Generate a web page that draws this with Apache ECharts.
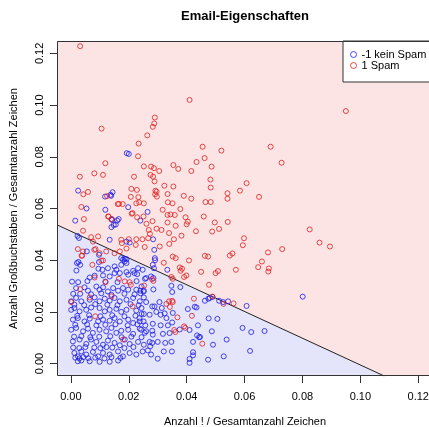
<!DOCTYPE html>
<html>
<head>
<meta charset="utf-8">
<script src="https://cdn.jsdelivr.net/npm/echarts@6/dist/echarts.min.js"></script>
<style>
  html, body { margin: 0; padding: 0; background: #ffffff; }
  #chart { width: 429px; height: 427px; }
</style>
</head>
<body>
<div id="chart"></div>
<script>
// Anteil Ausrufezeichen (x) und Anteil Großbuchstaben (y) je E-Mail
const hamPoints = [
  [0.0025,0.0669],[0.0139,0.0649],[0.0144,0.0663],[0.0118,0.0646],[0.0054,0.0600],[0.0119,0.0595],[0.0015,0.0553],[0.0141,0.0559],
  [0.0193,0.0814],[0.0200,0.0811],[0.0137,0.0653],[0.0198,0.0605],[0.0265,0.0587],[0.0142,0.0556],[0.0160,0.0553],[0.0165,0.0559],
  [0.0140,0.0528],[0.0148,0.0536],[0.0155,0.0538],[0.0240,0.0553],[0.0023,0.0494],[0.0028,0.0486],[0.0134,0.0479],[0.0192,0.0472],
  [0.0203,0.0468],[0.0284,0.0481],[0.0288,0.0440],[0.0055,0.0434],[0.0097,0.0421],[0.0174,0.0408],[0.0186,0.0405],[0.0290,0.0408],
  [0.0463,0.0243],[0.0475,0.0251],[0.0512,0.0243],[0.0607,0.0223],[0.0801,0.0259],[0.0476,0.0175],[0.0506,0.0173],[0.0593,0.0138],
  [0.0623,0.0122],[0.0669,0.0126],[0.0487,0.0125],[0.0538,0.0093],[0.0491,0.0073],[0.0619,0.0049],[0.0528,0.0028],[0.0474,0.0015],
  [0.0446,0.0103],[0.0291,0.0400],[0.0283,0.0382],[0.0260,0.0331],[0.0277,0.0337],[0.0285,0.0331],[0.0240,0.0282],[0.0251,0.0279],
  [0.0285,0.0287],[0.0347,0.0301],[0.0378,0.0296],[0.0350,0.0277],[0.0480,0.0254],[0.0489,0.0258],[0.0526,0.0238],[0.0543,0.0241],
  [0.0260,0.0238],[0.0281,0.0221],[0.0289,0.0221],[0.0306,0.0238],[0.0314,0.0215],[0.0404,0.0211],[0.0428,0.0220],[0.0434,0.0217],
  [0.0244,0.0192],[0.0272,0.0189],[0.0295,0.0200],[0.0310,0.0189],[0.0324,0.0194],[0.0352,0.0196],[0.0330,0.0176],[0.0350,0.0159],
  [0.0237,0.0176],[0.0251,0.0163],[0.0257,0.0148],[0.0283,0.0154],[0.0310,0.0148],[0.0335,0.0148],[0.0439,0.0148],
  [0.0376,0.0132],[0.0410,0.0130],[0.0243,0.0131],[0.0260,0.0125],[0.0281,0.0127],[0.0283,0.0112],[0.0318,0.0115],[0.0341,0.0118],
  [0.0436,0.0109],[0.0443,0.0102],[0.0422,0.0084],[0.0272,0.0084],[0.0281,0.0080],[0.0300,0.0084],[0.0326,0.0080],[0.0347,0.0084],
  [0.0274,0.0067],[0.0248,0.0047],[0.0266,0.0051],[0.0277,0.0035],[0.0321,0.0047],[0.0349,0.0047],[0.0422,0.0044],[0.0422,0.0032],
  [0.0300,0.0019],[0.0410,0.0018],[0.0410,0.0003],
  [0.0180,0.0402],[0.0186,0.0395],[0.0192,0.0404],[0.0220,0.0350],[0.0287,0.0369],[0.0333,0.0363],
  [0.0021,0.0389],[0.0026,0.0393],[0.0019,0.0360],[0.0032,0.0382],[0.0097,0.0393],[0.0095,0.0367],[0.0109,0.0363],[0.0128,0.0369],
  [0.0151,0.0376],[0.0157,0.0363],[0.0174,0.0382],[0.0192,0.0389],[0.0232,0.0369],
  [0.0065,0.0333],[0.0082,0.0340],[0.0111,0.0341],[0.0134,0.0337],[0.0151,0.0350],[0.0169,0.0350],[0.0192,0.0354],[0.0198,0.0344],
  [0.0215,0.0359],[0.0229,0.0346],[0.0248,0.0363],[0.0256,0.0328],
  [0.0004,0.0317],[0.0025,0.0315],[0.0057,0.0319],[0.0119,0.0317],[0.0161,0.0315],[0.0227,0.0319],
  [0.0018,0.0292],[0.0047,0.0295],[0.0059,0.0282],[0.0088,0.0298],[0.0099,0.0286],[0.0111,0.0295],[0.0128,0.0279],[0.0146,0.0292],
  [0.0163,0.0282],[0.0180,0.0292],[0.0198,0.0286],[0.0226,0.0286],[0.0244,0.0298],[0.0252,0.0282],
  [0.0008,0.0270],[0.0032,0.0270],[0.0070,0.0268],[0.0105,0.0272],[0.0140,0.0266],[0.0185,0.0270],[0.0220,0.0268],[0.0240,0.0272],
  [0.0001,0.0241],[0.0018,0.0254],[0.0036,0.0241],[0.0065,0.0247],[0.0082,0.0256],[0.0099,0.0241],[0.0117,0.0251],[0.0134,0.0243],
  [0.0151,0.0254],[0.0169,0.0241],[0.0192,0.0247],[0.0215,0.0254],[0.0238,0.0241],[0.0252,0.0256],
  [0.0012,0.0228],[0.0046,0.0226],[0.0084,0.0230],[0.0126,0.0228],[0.0161,0.0226],[0.0206,0.0230],[0.0234,0.0226],
  [0.0001,0.0208],[0.0012,0.0215],[0.0030,0.0202],[0.0053,0.0208],[0.0070,0.0217],[0.0099,0.0215],[0.0117,0.0202],[0.0134,0.0208],
  [0.0157,0.0212],[0.0174,0.0200],[0.0192,0.0208],[0.0226,0.0205],[0.0244,0.0215],[0.0252,0.0192],
  [0.0022,0.0185],[0.0063,0.0187],[0.0102,0.0183],[0.0143,0.0187],[0.0185,0.0183],[0.0223,0.0185],
  [0.0007,0.0170],[0.0024,0.0176],[0.0047,0.0163],[0.0065,0.0174],[0.0094,0.0163],[0.0111,0.0170],[0.0134,0.0166],[0.0151,0.0176],
  [0.0169,0.0163],[0.0198,0.0170],[0.0215,0.0157],[0.0238,0.0163],
  [0.0015,0.0150],[0.0056,0.0152],[0.0088,0.0148],[0.0119,0.0150],[0.0154,0.0152],[0.0196,0.0148],[0.0230,0.0152],
  [0.0001,0.0131],[0.0018,0.0138],[0.0042,0.0125],[0.0059,0.0135],[0.0076,0.0119],[0.0099,0.0131],[0.0122,0.0125],[0.0140,0.0138],
  [0.0157,0.0119],[0.0174,0.0127],[0.0198,0.0131],[0.0215,0.0115],[0.0238,0.0135],[0.0255,0.0119],
  [0.0011,0.0104],[0.0036,0.0106],[0.0067,0.0102],[0.0098,0.0104],[0.0136,0.0106],[0.0175,0.0102],[0.0209,0.0104],[0.0244,0.0102],
  [0.0007,0.0086],[0.0030,0.0093],[0.0053,0.0076],[0.0070,0.0093],[0.0088,0.0084],[0.0111,0.0073],[0.0128,0.0089],[0.0151,0.0080],
  [0.0169,0.0071],[0.0186,0.0093],[0.0203,0.0076],[0.0232,0.0084],[0.0252,0.0073],
  [0.0008,0.0062],[0.0029,0.0060],[0.0050,0.0064],[0.0081,0.0062],[0.0102,0.0060],[0.0123,0.0064],[0.0143,0.0062],[0.0185,0.0060],[0.0216,0.0064],
  [0.0012,0.0041],[0.0024,0.0028],[0.0036,0.0047],[0.0053,0.0035],[0.0076,0.0045],[0.0094,0.0028],[0.0111,0.0041],[0.0134,0.0035],
  [0.0163,0.0047],[0.0180,0.0028],[0.0203,0.0041],[0.0226,0.0035],
  [0.0015,0.0023],[0.0029,0.0020],[0.0043,0.0025],[0.0060,0.0021],[0.0084,0.0023],[0.0116,0.0020],[0.0140,0.0025],[0.0171,0.0022],
  [0.0024,0.0009],[0.0036,0.0012],[0.0065,0.0009],[0.0099,0.0007],[0.0134,0.0007],[0.0163,0.0012]
];

const spamPoints = [
  [0.0032,0.1228],[0.0106,0.0909],[0.0119,0.0775],[0.0031,0.0723],[0.0081,0.0736],[0.0111,0.0730],
  [0.0043,0.0655],[0.0059,0.0664],[0.0125,0.0648],[0.0036,0.0606],[0.0162,0.0617],[0.0045,0.0559],[0.0129,0.0569],
  [0.0232,0.0802],[0.0252,0.0763],[0.0277,0.0762],[0.0287,0.0756],[0.0275,0.0730],[0.0284,0.0723],[0.0305,0.0745],[0.0354,0.0768],
  [0.0218,0.0723],[0.0289,0.0705],[0.0323,0.0688],[0.0354,0.0685],[0.0209,0.0676],[0.0228,0.0672],[0.0296,0.0665],[0.0291,0.0655],
  [0.0334,0.0656],[0.0233,0.0644],[0.0236,0.0624],[0.0252,0.0620],[0.0226,0.0620],[0.0166,0.0618],[0.0179,0.0617],
  [0.0213,0.0582],[0.0317,0.0595],[0.0351,0.0620],[0.0334,0.0575],[0.0359,0.0575],[0.0130,0.0569],[0.0140,0.0559],
  [0.0229,0.0566],[0.0251,0.0569],[0.0282,0.0551],[0.0261,0.0541],[0.0269,0.0517],[0.0273,0.0502],[0.0296,0.0522],[0.0313,0.0517],
  [0.0334,0.0546],[0.0362,0.0533],[0.0339,0.0505],[0.0356,0.0481],[0.0340,0.0463],[0.0042,0.0514],[0.0094,0.0492],[0.0070,0.0489],
  [0.0076,0.0472],[0.0085,0.0443],[0.0174,0.0479],[0.0200,0.0481],[0.0176,0.0466],[0.0192,0.0445],[0.0226,0.0481],[0.0247,0.0481],
  [0.0267,0.0485],[0.0224,0.0459],[0.0255,0.0451],[0.0307,0.0453],[0.0024,0.0443],[0.0042,0.0434],[0.0081,0.0440],[0.0099,0.0427],
  [0.0122,0.0434],[0.0151,0.0427],[0.0169,0.0434],
  [0.0410,0.1020],[0.0290,0.0952],[0.0288,0.0929],[0.0283,0.0916],[0.0264,0.0883],[0.0234,0.0851],[0.0455,0.0839],[0.0690,0.0839],
  [0.0520,0.0824],[0.0462,0.0795],[0.0434,0.0780],[0.0728,0.0777],[0.0371,0.0753],[0.0486,0.0762],[0.0416,0.0745],[0.0482,0.0712],
  [0.0483,0.0681],[0.0607,0.0698],[0.0292,0.0669],[0.0297,0.0646],[0.0541,0.0659],[0.0541,0.0638],[0.0584,0.0669],[0.0650,0.0645],
  [0.0207,0.0645],[0.0390,0.0649],[0.0416,0.0638],[0.0335,0.0624],[0.0465,0.0625],[0.0483,0.0625],[0.0378,0.0598],[0.0210,0.0580],
  [0.0344,0.0577],[0.0396,0.0566],[0.0404,0.0549],[0.0400,0.0539],[0.0459,0.0569],[0.0497,0.0546],[0.0542,0.0548],[0.0512,0.0521],
  [0.0488,0.0511],[0.0432,0.0512],[0.0382,0.0495],[0.0598,0.0485],
  [0.0950,0.0977],[0.0825,0.0519],[0.0859,0.0468],[0.0895,0.0453],[0.0594,0.0458],[0.0681,0.0430],[0.0730,0.0443],[0.0660,0.0395],
  [0.0647,0.0373],[0.0684,0.0368],[0.0682,0.0356],
  [0.0463,0.0417],[0.0474,0.0414],[0.0549,0.0418],[0.0558,0.0426],[0.0450,0.0355],[0.0500,0.0350],[0.0508,0.0358],[0.0570,0.0363],
  [0.0477,0.0305],[0.0489,0.0259],[0.0527,0.0231],[0.0562,0.0233],[0.0454,0.0077],
  [0.0321,0.0390],[0.0352,0.0414],[0.0362,0.0408],[0.0408,0.0399],[0.0376,0.0372],[0.0384,0.0367],[0.0379,0.0359],
  [0.0347,0.0335],[0.0352,0.0328],[0.0391,0.0335],[0.0399,0.0341],[0.0280,0.0327],[0.0285,0.0320],[0.0253,0.0302],
  [0.0350,0.0243],[0.0352,0.0238],[0.0425,0.0251],[0.0330,0.0231],[0.0339,0.0241],[0.0342,0.0219],[0.0418,0.0185],[0.0368,0.0179],
  [0.0391,0.0144],[0.0395,0.0138],[0.0357,0.0130],[0.0361,0.0122],
  [0.0039,0.0418],[0.0037,0.0417],[0.0105,0.0398],[0.0111,0.0399],[0.0074,0.0382],[0.0082,0.0333],[0.0120,0.0315],[0.0166,0.0328],
  [0.0186,0.0318],[0.0203,0.0315],[0.0207,0.0305],[0.0032,0.0288],[0.0065,0.0256],[0.0001,0.0238],[0.0140,0.0260],[0.0213,0.0221],
  [0.0084,0.0183],[0.0180,0.0093]
];

// Trennlinie des Klassifikators: y = intercept + slope * x
const boundaryIntercept = 0.0512;
const boundarySlope = -0.5173;

const xTicks = [0, 0.02, 0.04, 0.06, 0.08, 0.10, 0.12];
const yTicks = [0, 0.02, 0.04, 0.06, 0.08, 0.10, 0.12];
const xRange = [-0.0048, 0.1251];
const yRange = [-0.0048, 0.1248];

const classNames = ['-1 kein Spam', '1 Spam'];

const FONT = 'Liberation Sans, Arial, Helvetica, sans-serif';
const HAM_COLOR = '#1a1ae6';
const SPAM_COLOR = '#e01f1f';
const GRID = { left: 57, top: 41, width: 376, height: 335 };

const boundaryLine = [
  [xRange[0], boundaryIntercept + boundarySlope * xRange[0]],
  [(yRange[0] - boundaryIntercept) / boundarySlope, yRange[0]]
];

const chart = echarts.init(document.getElementById('chart'), null, { renderer: 'canvas' });

chart.setOption({
  animation: false,
  backgroundColor: '#ffffff',
  textStyle: { fontFamily: FONT },
  grid: Object.assign({
    show: true,
    backgroundColor: '#fce4e4',
    borderWidth: 0,
    containLabel: false,
    outerBoundsMode: 'none'
  }, GRID),
  graphic: [
    {
      type: 'text', x: 245, y: 16, z: 100,
      style: { text: 'Email-Eigenschaften', font: 'bold 13px ' + FONT, fill: '#000', align: 'center', verticalAlign: 'middle' }
    },
    {
      type: 'rect', z: 100, silent: true,
      shape: { x: GRID.left + 0.5, y: GRID.top + 0.5, width: GRID.width, height: GRID.height - 1 },
      style: { fill: 'none', stroke: '#333', lineWidth: 1 }
    }
  ],
  legend: {
    orient: 'vertical',
    left: 343, top: 41,
    padding: [8, 60, 11, 7],
    itemGap: 0,
    itemWidth: 6, itemHeight: 6,
    backgroundColor: '#ffffff',
    borderColor: '#333', borderWidth: 1, borderRadius: 0,
    z: 50,
    textStyle: { fontFamily: FONT, fontSize: 11, color: '#000', lineHeight: 10 },
    data: [
      { name: classNames[0], icon: 'circle', itemStyle: { color: 'transparent', borderColor: HAM_COLOR, borderWidth: 1 } },
      { name: classNames[1], icon: 'circle', itemStyle: { color: 'transparent', borderColor: SPAM_COLOR, borderWidth: 1 } }
    ]
  },
  xAxis: {
    type: 'value',
    min: xRange[0], max: xRange[1],
    name: 'Anzahl ! / Gesamtanzahl Zeichen',
    nameLocation: 'middle',
    nameGap: 40,
    nameTextStyle: { fontFamily: FONT, fontSize: 11, color: '#000' },
    axisLine: { show: false, onZero: false },
    splitLine: { show: false },
    axisTick: { show: true, inside: false, length: 7, customValues: xTicks, lineStyle: { color: '#333', width: 1 } },
    axisLabel: { customValues: xTicks, margin: 15, fontFamily: FONT, fontSize: 11, color: '#000', formatter: v => v.toFixed(2) }
  },
  yAxis: {
    type: 'value',
    min: yRange[0], max: yRange[1],
    name: 'Anzahl Großbuchstaben / Gesamtanzahl Zeichen',
    nameLocation: 'middle',
    nameRotate: 90,
    nameGap: 38,
    nameTextStyle: { fontFamily: FONT, fontSize: 11, color: '#000' },
    axisLine: { show: false, onZero: false },
    splitLine: { show: false },
    axisTick: { show: true, inside: false, length: 7, customValues: yTicks, lineStyle: { color: '#333', width: 1 } },
    axisLabel: { customValues: yTicks, rotate: 90, margin: 12, fontFamily: FONT, fontSize: 11, color: '#000', formatter: v => v.toFixed(2) }
  },
  series: [
    {
      name: 'Trennlinie',
      type: 'line',
      data: boundaryLine,
      symbol: 'none',
      silent: true,
      lineStyle: { color: '#222', width: 1 },
      areaStyle: { color: '#e4e4fb', opacity: 1, origin: 'start' },
      z: 1
    },
    {
      name: classNames[0],
      type: 'scatter',
      data: hamPoints,
      symbol: 'circle',
      symbolSize: 5,
      itemStyle: { color: 'transparent', borderColor: HAM_COLOR, borderWidth: 1 },
      z: 2
    },
    {
      name: classNames[1],
      type: 'scatter',
      data: spamPoints,
      symbol: 'circle',
      symbolSize: 5,
      itemStyle: { color: 'transparent', borderColor: SPAM_COLOR, borderWidth: 1 },
      z: 3
    }
  ]
});
</script>
</body>
</html>
